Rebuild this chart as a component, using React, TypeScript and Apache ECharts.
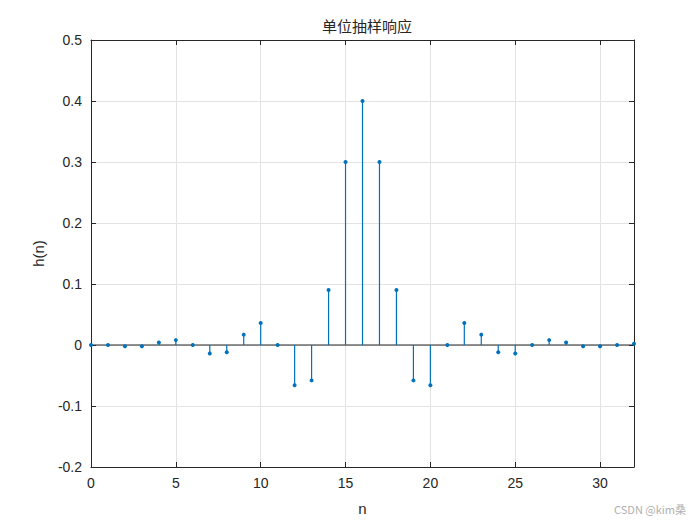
import React, { useEffect, useRef } from "react";
import * as echarts from "echarts";

const nValues: number[] = Array.from({ length: 33 }, (_, i) => i);
const hValues: number[] = [
  0, 0, -0.002, -0.002, 0.004, 0.008, 0, -0.014, -0.012, 0.017, 0.036, 0,
  -0.066, -0.058, 0.09, 0.3, 0.4, 0.3, 0.09, -0.058, -0.066, 0, 0.036, 0.017,
  -0.012, -0.014, 0, 0.008, 0.004, -0.002, -0.002, 0, 0.002,
];
const titleText = "单位抽样响应";
const xName = "n";
const yName = "h(n)";
const watermark = "CSDN @kim桑";

export default function App() {
  const ref = useRef<HTMLDivElement>(null);
  useEffect(() => {
    if (!ref.current) return;
    const chart = echarts.init(ref.current, undefined, { renderer: "svg" });
    const pts = nValues.map((n, i) => [n, hValues[i]]);
    const font = "'Liberation Sans', Arial, sans-serif";
    const axisCommon = {
      axisLine: { show: true, onZero: false, lineStyle: { color: "#262626", width: 1 } },
      axisTick: { show: true, inside: true, length: 5, lineStyle: { color: "#262626" } },
    };
    chart.setOption({
      animation: false,
      backgroundColor: "#ffffff",
      title: {
        text: titleText,
        left: 362,
        textAlign: "center",
        top: 13,
        textStyle: { fontFamily: "'Noto Sans CJK SC', sans-serif", fontSize: 15, fontWeight: "normal", color: "#262626" },
      },
      grid: { left: 91, right: 66, top: 40, bottom: 58 },
      xAxis: [
        {
          type: "value",
          min: 0,
          max: 32,
          interval: 5,
          position: "bottom",
          ...axisCommon,
          axisLabel: { color: "#262626", fontSize: 14, fontFamily: font, margin: 9, showMaxLabel: false },
          splitLine: { show: true, lineStyle: { color: "#e3e3e3", width: 1 } },
          name: xName,
          nameLocation: "middle",
          nameGap: 34,
          nameTextStyle: { color: "#262626", fontSize: 15, fontFamily: font },
        },
        {
          type: "value",
          min: 0,
          max: 32,
          interval: 5,
          position: "top",
          ...axisCommon,
          axisLabel: { show: false },
          splitLine: { show: false },
        },
      ],
      yAxis: [
        {
          type: "value",
          min: -0.2,
          max: 0.5,
          interval: 0.1,
          position: "left",
          ...axisCommon,
          axisLabel: {
            color: "#262626",
            fontSize: 14,
            fontFamily: font,
            margin: 9,
            formatter: (v: number) => String(Math.round(v * 10) / 10),
          },
          splitLine: { show: true, lineStyle: { color: "#e3e3e3", width: 1 } },
          name: yName,
          nameLocation: "middle",
          nameGap: 45,
          nameTextStyle: { color: "#262626", fontSize: 15, fontFamily: font },
        },
        {
          type: "value",
          min: -0.2,
          max: 0.5,
          interval: 0.1,
          position: "right",
          ...axisCommon,
          axisLabel: { show: false },
          splitLine: { show: false },
        },
      ],
      series: [
        {
          type: "custom",
          data: pts,
          z: 3,
          renderItem: (params: any, api: any) => {
            const x = api.value(0);
            const y = api.value(1);
            const p0 = api.coord([x, 0]);
            const p1 = api.coord([x, y]);
            return {
              type: "line",
              shape: { x1: p0[0], y1: p0[1], x2: p1[0], y2: p1[1] },
              style: { stroke: "#0072BD", lineWidth: 1.2 },
            };
          },
        },
        {
          type: "line",
          data: [[0, 0], [32, 0]],
          symbol: "none",
          lineStyle: { color: "#262626", width: 1.2 },
          z: 2,
        },
        {
          type: "scatter",
          data: pts,
          symbol: "circle",
          symbolSize: 4,
          itemStyle: { color: "#0072BD", opacity: 1 },
          z: 4,
        },
      ],
      graphic: [
        {
          type: "text",
          right: 14,
          top: 503,
          style: { text: watermark, fontSize: 11, fill: "#b0b0b0", fontFamily: "'Noto Sans CJK SC', sans-serif" },
        },
      ],
    });
    return () => chart.dispose();
  }, []);
  return <div ref={ref} style={{ width: 700, height: 525, position: "absolute", left: 0, top: 0 }} />;
}
